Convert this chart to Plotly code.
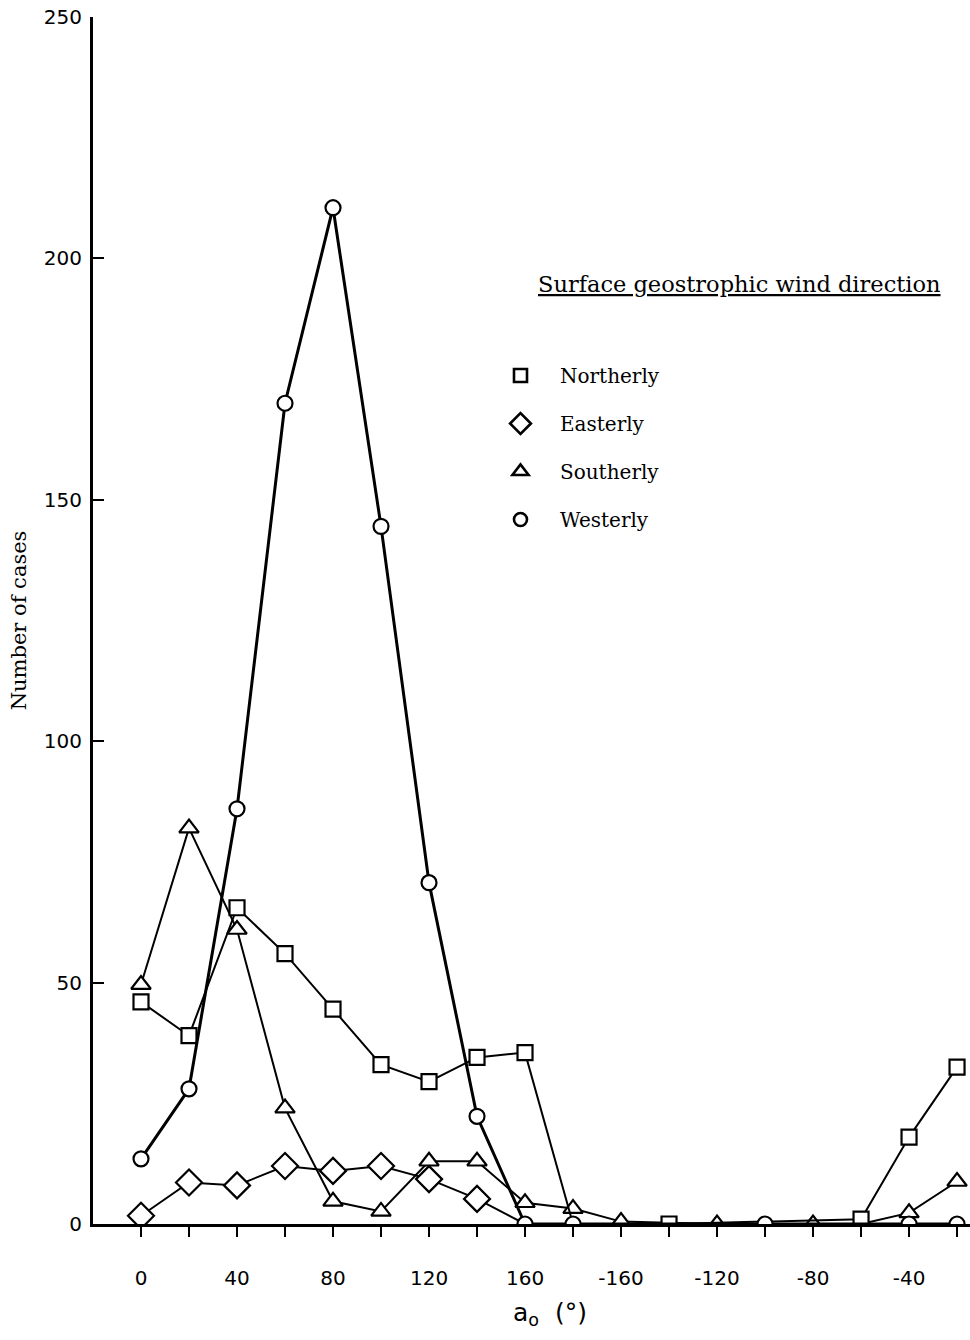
import plotly.graph_objects as go

# ---------------- data ----------------
TICK_ANGLES = [0, 20, 40, 60, 80, 100, 120, 140, 160, 180,
               -160, -140, -120, -100, -80, -60, -40, -20]
TICK_LABELS = ["0", "", "40", "", "80", "", "120", "", "160", "",
               "-160", "", "-120", "", "-80", "", "-40", ""]
Y_TICKS = [0, 50, 100, 150, 200, 250]

north_angles = [0, 20, 40, 60, 80, 100, 120, 140, 160, 180, -140, -60, -40, -20]
north_cases = [46, 39, 65.5, 56, 44.5, 33, 29.5, 34.5, 35.5, 0, 0, 1, 18, 32.5]

east_angles = [0, 20, 40, 60, 80, 100, 120, 140, 160]
east_cases = [1.7, 8.6, 8, 12, 11, 12, 9.3, 5.2, 0]

south_angles = [0, 20, 40, 60, 80, 100, 120, 140, 160, 180, -160, -120, -80, -60, -40, -20]
south_cases = [49.6, 82, 61, 24, 4.7, 2.6, 13, 13, 4.4, 3.2, 0.5, 0, 0, 0, 2.3, 8.8]

west_angles = [0, 20, 40, 60, 80, 100, 120, 140, 160, 180, -100, -40, -20]
west_cases = [13.5, 28, 86, 170, 210.5, 144.5, 70.7, 22.3, 0, 0, 0, 0, 0]

SERIES_NAMES = ["Northerly", "Easterly", "Southerly", "Westerly"]
LEGEND_TITLE = "Surface geostrophic wind direction"

# points whose marker is hidden under another series' marker (style only)
HIDDEN = {"Northerly": [180], "Easterly": [160], "Southerly": [-60], "Westerly": []}


def pos(a):
    """continuous axis position: 0..180 then -160..-20 wrapped to 200..340"""
    return a if a >= 0 else a + 360


styles = {
    "Northerly": dict(symbol="square", size=15, lsize=13, lw=2),
    "Easterly": dict(symbol="diamond", size=20, lsize=16, lw=2),
    "Southerly": dict(symbol="triangle-up", size=17, lsize=14, lw=2),
    "Westerly": dict(symbol="circle", size=15, lsize=13, lw=3),
}
series = {
    "Northerly": (north_angles, north_cases),
    "Easterly": (east_angles, east_cases),
    "Southerly": (south_angles, south_cases),
    "Westerly": (west_angles, west_cases),
}

fig = go.Figure()

for name in ["Southerly", "Easterly", "Northerly", "Westerly"]:
    ang, val = series[name]
    st = styles[name]
    sizes = [0 if a in HIDDEN[name] else st["size"] for a in ang]
    fig.add_trace(go.Scatter(
        x=[pos(a) for a in ang], y=val, mode="lines+markers", name=name,
        showlegend=False, cliponaxis=True,
        line=dict(color="black", width=st["lw"]),
        marker=dict(symbol=st["symbol"], size=sizes, color="white", opacity=1,
                    line=dict(color="black", width=2.2)),
    ))

# legend-only entries (symbols without lines)
for name in SERIES_NAMES:
    st = styles[name]
    fig.add_trace(go.Scatter(
        x=[None], y=[None], mode="markers", name=name, legendgroup=name,
        marker=dict(symbol=st["symbol"], size=st["lsize"], color="white", opacity=1,
                    line=dict(color="black", width=2.6)),
    ))

FONT_SANS = "DejaVu Sans"
FONT_SERIF = "DejaVu Serif"

fig.update_layout(
    width=970, height=1340,
    margin=dict(l=93, r=0, t=17, b=116),
    paper_bgcolor="white", plot_bgcolor="white",
    showlegend=True,
    legend=dict(
        x=(481 - 93) / 877, xanchor="left",
        y=(1224 - 356) / 1207, yanchor="top",
        font=dict(family=FONT_SERIF, size=20, color="black"),
        tracegroupgap=19, itemwidth=69,
        bgcolor="rgba(0,0,0,0)",
    ),
    xaxis=dict(
        range=[-20, 345.4],
        tickmode="array",
        tickvals=[pos(a) for a in TICK_ANGLES],
        ticktext=TICK_LABELS,
        ticks="outside", ticklen=10, tickwidth=2, tickcolor="black",
        showline=True, linewidth=3, linecolor="black",
        showgrid=False, zeroline=False,
        tickfont=dict(family=FONT_SANS, size=20, color="black"),
        ticklabelstandoff=24,
    ),
    yaxis=dict(
        range=[0, 250],
        tickmode="array", tickvals=Y_TICKS,
        ticks="inside", ticklen=11, tickwidth=2, tickcolor="black",
        showline=True, linewidth=3, linecolor="black",
        showgrid=False, zeroline=False,
        tickfont=dict(family=FONT_SANS, size=20, color="black"),
        ticklabelstandoff=4,
        title=dict(text="Number of cases", standoff=12,
                   font=dict(family=FONT_SERIF, size=21, color="black")),
    ),
    annotations=[
        dict(text="<u>" + LEGEND_TITLE + "</u>", xref="paper", yref="paper",
             x=(536 - 93) / 877, y=(1224 - 284) / 1207,
             xanchor="left", yanchor="middle", showarrow=False,
             font=dict(family=FONT_SERIF, size=22.5, color="black")),
        dict(text="a<sub>o</sub>  (°)", xref="paper", yref="paper",
             x=(550 - 93) / 877, y=(1224 - 1314) / 1207,
             xanchor="center", yanchor="middle", showarrow=False,
             font=dict(family=FONT_SANS, size=25, color="black")),
    ],
)

fig.write_html("out.html")
